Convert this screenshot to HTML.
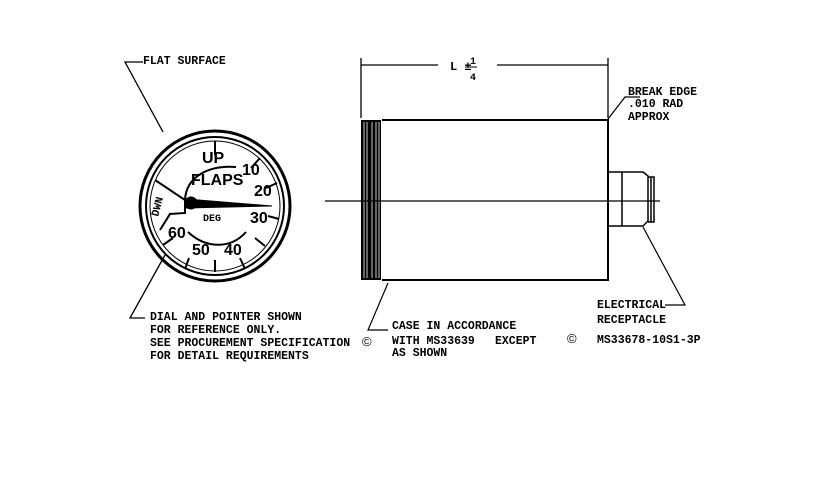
<!DOCTYPE html><html><head><style>body{margin:0;background:#fff}svg{display:block}text{font-family:"Liberation Mono",monospace;font-weight:bold;fill:#000}.s{font-family:"Liberation Sans",sans-serif;font-size:16px;font-weight:bold}</style></head><body>
<svg width="828" height="478" viewBox="0 0 828 478" stroke="#000" fill="none">
<g font-size="11.5" stroke="none">
<text x="143" y="64">FLAT SURFACE</text>
<text x="150" y="320">DIAL AND POINTER SHOWN</text>
<text x="150" y="333">FOR REFERENCE ONLY.</text>
<text x="150" y="346">SEE PROCUREMENT SPECIFICATION</text>
<text x="150" y="359">FOR DETAIL REQUIREMENTS</text>
<text x="392" y="329">CASE IN ACCORDANCE</text>
<text x="392" y="344">WITH MS33639</text>
<text x="495" y="344">EXCEPT</text>
<text x="392" y="356">AS SHOWN</text>
<text x="597" y="308">ELECTRICAL</text>
<text x="597" y="323">RECEPTACLE</text>
<text x="597" y="343">MS33678-10S1-3P</text>
<text x="628" y="95">BREAK EDGE</text>
<text x="628" y="107">.010 RAD</text>
<text x="628" y="120">APPROX</text>
</g>
<path d="M143,62 H125 L163,132" stroke-width="1.3"/>
<circle cx="215" cy="206" r="75" stroke-width="3"/>
<circle cx="215" cy="206" r="69" stroke-width="2"/>
<circle cx="215" cy="206" r="65" stroke-width="1"/>
<g stroke-width="2">
<path d="M215,141 V155 M260,158 L251,168 M277,183 L266,188 M279,219 L268,216 M265,246 L255,238 M245,269 L240,258 M215,272 V260 M185,269 L189,258 M163,245 L173,238"/>
<path d="M155,180 L185,200 V213 L170,214 L160,230 M246,232 C230,250 205,248 188,232"/>
<path d="M185,200 C186,177 208,165 236,167"/>
</g>
<path d="M186,199 L272,206 L186,208 Z" fill="#000"/>
<circle cx="191" cy="203" r="6" fill="#000"/>
<text x="202" y="163" class="s" stroke="none">UP</text>
<text x="191" y="185" class="s" stroke="none">FLAPS</text>
<text x="242" y="175" class="s" stroke="none">10</text>
<text x="254" y="196" class="s" stroke="none">20</text>
<text x="250" y="223" class="s" stroke="none">30</text>
<text x="224" y="255" class="s" stroke="none">40</text>
<text x="192" y="255" class="s" stroke="none">50</text>
<text x="168" y="238" class="s" stroke="none">60</text>
<text x="203" y="221" font-size="10" stroke="none">DEG</text>
<text x="0" y="0" font-size="11" stroke="none" transform="translate(158,217) rotate(-75)">DWN</text>
<path d="M165,255 L130,318 H145" stroke-width="1.3"/>
<text x="362" y="346" font-size="13" style="font-family:'Liberation Sans',sans-serif;font-weight:normal" stroke="none">©</text>
<text x="567" y="343" font-size="13" style="font-family:'Liberation Sans',sans-serif;font-weight:normal" stroke="none">©</text>
<path d="M361,58 V118 M608,58 V118 M361,65 H438 M497,65 H608" stroke-width="1.3"/>
<text x="450" y="70" font-size="12" stroke="none">L ±</text>
<text x="470" y="64" font-size="10" stroke="none">1</text><path d="M465,67 H477" stroke-width="1"/>
<text x="470" y="80" font-size="10" stroke="none">4</text>
<rect x="361" y="120" width="20" height="160" fill="#000" stroke="none"/>
<path d="M364,122 V278 M367,122 V278 M372,122 V278 M376,122 V278 M379,122 V278" stroke="#fff" stroke-width="0.8"/>
<path d="M382,120 H608 V280 H382" stroke-width="2"/>
<path d="M608,172 H643 L648,176 V221 L643,226 H608 M622,172 V226 M648,177 H654 V222 H648 M651,177 V222" stroke-width="1.5"/>
<path d="M325,201 H660" stroke-width="1.3"/>
<path d="M608,119 L625,97 H640" stroke-width="1.2"/>
<path d="M388,283 L368,330 H388" stroke-width="1.2"/>
<path d="M643,227 L685,305 H665" stroke-width="1.2"/>
</svg></body></html>
